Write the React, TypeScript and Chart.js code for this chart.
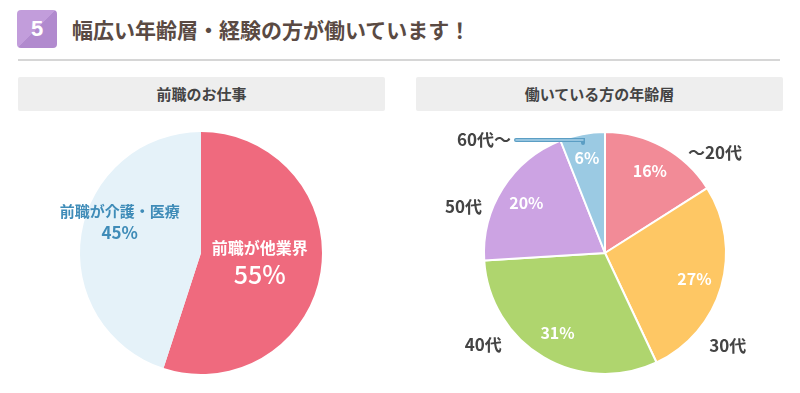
import React, { useEffect, useRef } from "react";
import { Chart, registerables } from "chart.js";

Chart.register(...registerables);

const TITLE = "幅広い年齢層・経験の方が働いています！";
const BADGE = "5";

const prevJobTitle = "前職のお仕事";
const prevJobLabels = ["前職が他業界", "前職が介護・医療"];
const prevJobValues = [55, 45];
const prevJobColors = ["#ef6a7e", "#e5f2f9"];

const ageTitle = "働いている方の年齢層";
const ageLabels = ["～20代", "30代", "40代", "50代", "60代～"];
const ageValues = [16, 27, 31, 20, 6];
const ageColors = ["#f28b97", "#fec764", "#afd56e", "#cca3e3", "#9bcae3"];

const FONT = "'Noto Sans CJK JP', 'Noto Sans', sans-serif";

// label placement (style): angle in degrees from top, clockwise; dist as fraction of radius
const prevLabelPlace = [
  { ang: 98, dist: 0.49, color: "#ffffff" },
  { ang: 291, dist: 0.72, color: "#3f8cb8" },
];
const ageOuterPlace = [
  { ang: 47.7, dist: 1.23, align: "center" },
  { ang: 127, dist: 1.27, align: "center" },
  { ang: 233, dist: 1.26, align: "center" },
  { ang: 288, dist: 1.23, align: "center" },
];

function polar(cx: number, cy: number, r: number, deg: number) {
  const a = (deg * Math.PI) / 180;
  return { x: cx + Math.sin(a) * r, y: cy - Math.cos(a) * r };
}

const prevPlugin = {
  id: "prevLabels",
  afterDatasetsDraw(chart: any) {
    const ctx = chart.ctx;
    const arc = chart.getDatasetMeta(0).data[0];
    const { x: cx, y: cy, outerRadius: r } = arc;
    ctx.save();
    ctx.textAlign = "center";
    ctx.textBaseline = "middle";
    prevJobLabels.forEach((lab, i) => {
      const p = prevLabelPlace[i];
      const pos = polar(cx, cy, r * p.dist, p.ang);
      ctx.fillStyle = p.color;
      if (i === 0) {
        ctx.font = `700 16px ${FONT}`;
        ctx.fillText(lab, pos.x, pos.y - 13);
        ctx.font = `500 25px ${FONT}`;
        ctx.fillText(prevJobValues[i] + "%", pos.x, pos.y + 13);
      } else {
        ctx.font = `700 15px ${FONT}`;
        ctx.fillText(lab, pos.x, pos.y - 10);
        ctx.font = `700 17px ${FONT}`;
        ctx.fillText(prevJobValues[i] + "%", pos.x, pos.y + 11);
      }
    });
    ctx.restore();
  },
};

const agePlugin = {
  id: "ageLabels",
  afterDatasetsDraw(chart: any) {
    const ctx = chart.ctx;
    const meta = chart.getDatasetMeta(0);
    const first = meta.data[0];
    const { x: cx, y: cy, outerRadius: r } = first;
    ctx.save();
    ctx.textBaseline = "middle";
    // inner percentages
    ctx.textAlign = "center";
    ctx.fillStyle = "#ffffff";
    ctx.font = `700 16px ${FONT}`;
    meta.data.forEach((a: any, i: number) => {
      const mid = (a.startAngle + a.endAngle) / 2;
      const d = r * (i === 4 ? 0.8 : 0.77);
      const x = cx + Math.cos(mid) * d;
      const y = cy + Math.sin(mid) * d;
      ctx.fillText(ageValues[i] + "%", x, y);
    });
    // outer labels
    ctx.fillStyle = "#444444";
    ctx.font = `700 17px ${FONT}`;
    ageOuterPlace.forEach((p, i) => {
      const pos = polar(cx, cy, r * p.dist, p.ang);
      ctx.textAlign = p.align;
      ctx.fillText(ageLabels[i], pos.x, pos.y);
    });
    // 60代～ with leader line
    const lineY = cy - r + 8;
    const lineEnd = cx - 22;
    const lineStart = cx - 89;
    ctx.lineCap = "round";
    ctx.strokeStyle = "#5b9ec4";
    ctx.lineWidth = 4;
    ctx.beginPath();
    ctx.moveTo(lineStart, lineY);
    ctx.lineTo(lineEnd, lineY);
    ctx.lineTo(lineEnd, lineY + 3);
    ctx.stroke();
    ctx.strokeStyle = "#a9d1e7";
    ctx.lineWidth = 1.5;
    ctx.beginPath();
    ctx.moveTo(lineStart, lineY);
    ctx.lineTo(lineEnd, lineY);
    ctx.stroke();
    ctx.textAlign = "right";
    ctx.fillStyle = "#444444";
    ctx.fillText(ageLabels[4], lineStart - 5, lineY);
    ctx.restore();
  },
};

function PieChart(props: {
  labels: string[];
  values: number[];
  colors: string[];
  border: number;
  plugin: any;
}) {
  const ref = useRef<HTMLCanvasElement>(null);
  useEffect(() => {
    const chart = new Chart(ref.current!, {
      type: "pie",
      data: {
        labels: props.labels,
        datasets: [
          {
            data: props.values,
            backgroundColor: props.colors,
            borderColor: "#ffffff",
            borderWidth: props.border,
            radius: 121,
          } as any,
        ],
      },
      options: {
        animation: false,
        responsive: false,
        maintainAspectRatio: false,
        layout: { padding: 0 },
        plugins: {
          legend: { display: false },
          tooltip: { enabled: false },
          title: { display: false },
        },
      },
      plugins: [props.plugin],
    });
    return () => chart.destroy();
  }, []);
  return <canvas ref={ref} width={402} height={280} style={{ display: "block", width: 402, height: 280 }} />;
}

export default function App() {
  useEffect(() => {
    document.body.style.margin = "0";
    document.body.style.overflow = "hidden";
    document.body.style.background = "#ffffff";
  }, []);
  const subBox: React.CSSProperties = {
    position: "absolute",
    top: 77,
    height: 34,
    background: "#eeeeee",
    borderRadius: 2,
    color: "#444444",
    fontFamily: FONT,
    fontWeight: 700,
    fontSize: 15,
    lineHeight: "34px",
    textAlign: "center",
  };
  return (
    <div style={{ position: "relative", width: 800, height: 393, overflow: "hidden", background: "#fff" }}>
      <div
        style={{
          position: "absolute",
          left: 17,
          top: 10,
          width: 40,
          height: 38,
          borderRadius: 4,
          background: "linear-gradient(135deg, #c29ddb 0%, #c29ddb 50%, #b18ace 50%, #b18ace 100%)",
          color: "#ffffff",
          fontFamily: "'Liberation Sans', sans-serif",
          fontWeight: 700,
          fontSize: 22,
          lineHeight: "38px",
          textAlign: "center",
        }}
      >
        {BADGE}
      </div>
      <div
        style={{
          position: "absolute",
          left: 72,
          top: 10,
          height: 38,
          lineHeight: "38px",
          fontFamily: FONT,
          fontWeight: 700,
          fontSize: 21,
          color: "#5a4a43",
          whiteSpace: "nowrap",
        }}
      >
        {TITLE}
      </div>
      <div style={{ position: "absolute", left: 18, top: 59, width: 762, height: 2, background: "#d6d6d6" }} />
      <div style={{ ...subBox, left: 18, width: 367 }}>{prevJobTitle}</div>
      <div style={{ ...subBox, left: 416, width: 367 }}>{ageTitle}</div>
      <div style={{ position: "absolute", left: 0, top: 113 }}>
        <PieChart labels={prevJobLabels} values={prevJobValues} colors={prevJobColors} border={0} plugin={prevPlugin} />
      </div>
      <div style={{ position: "absolute", left: 404, top: 113 }}>
        <PieChart labels={ageLabels} values={ageValues} colors={ageColors} border={2} plugin={agePlugin} />
      </div>
    </div>
  );
}
